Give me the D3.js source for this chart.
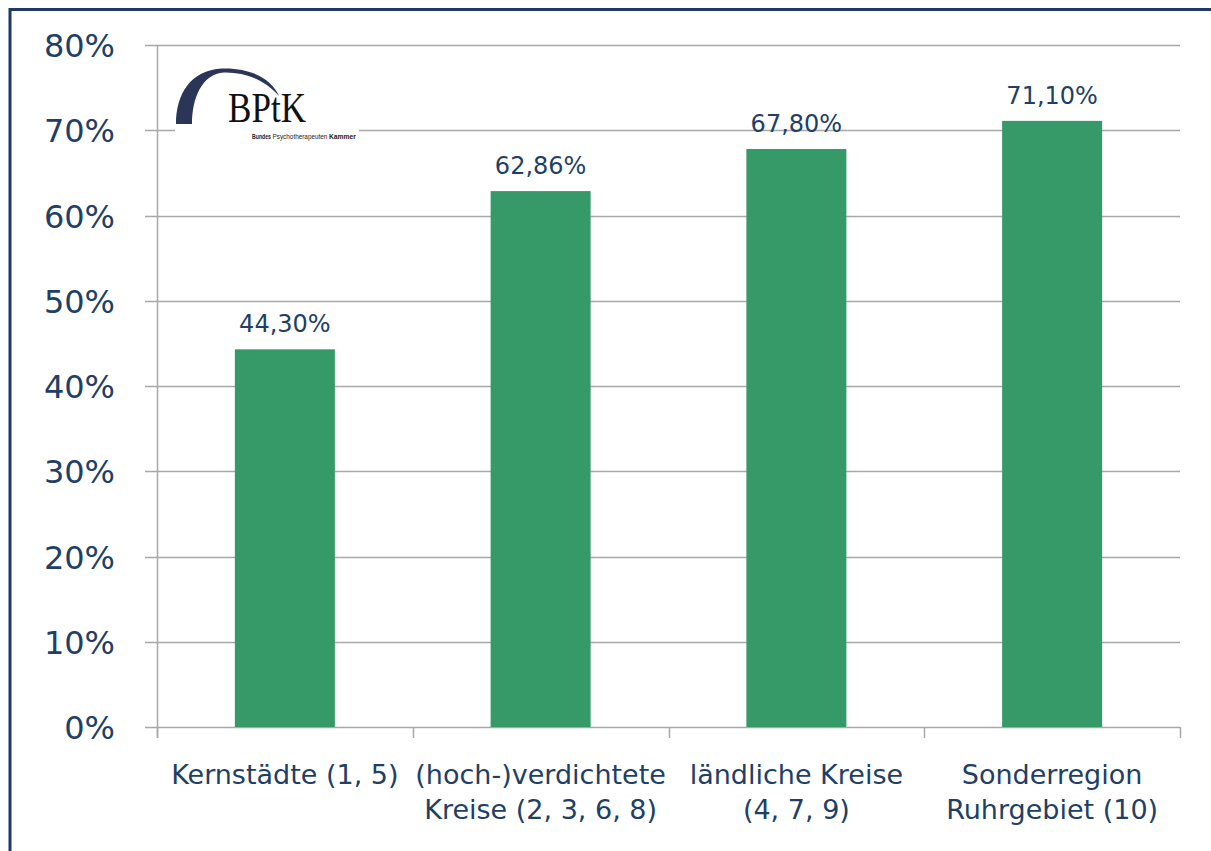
<!DOCTYPE html>
<html>
<head>
<meta charset="utf-8">
<script src="https://cdn.jsdelivr.net/npm/d3@7"></script>
<style>
  html, body { margin: 0; padding: 0; background: #ffffff; }
  svg { display: block; }
</style>
</head>
<body>
<svg id="chart" width="1211" height="851"></svg>
<script>
// Anteil je Regionstyp
const categories = [
  ["Kernstädte (1, 5)"],
  ["(hoch-)verdichtete", "Kreise (2, 3, 6, 8)"],
  ["ländliche Kreise", "(4, 7, 9)"],
  ["Sonderregion", "Ruhrgebiet (10)"]
];
const values = [0.4430, 0.6286, 0.6780, 0.7110];
const yTicks = [0, 0.1, 0.2, 0.3, 0.4, 0.5, 0.6, 0.7, 0.8];
const yTickLabels = ["0%", "10%", "20%", "30%", "40%", "50%", "60%", "70%", "80%"];

const navy = "#213f66";
const grid = "#a8a8a8";
const green = "#359968";
const font = "'DejaVu Sans', Verdana, sans-serif";

const svg = d3.select("#chart");

// outer frame (top and left edges)
svg.append("path")
  .attr("d", "M10,851 L10,9.5 L1211,9.5")
  .attr("fill", "none")
  .attr("stroke", "#1c3a64")
  .attr("stroke-width", 3);

const plot = { left: 157, right: 1180, top: 45, bottom: 727 };

const keys = categories.map((c, i) => i);
const x = d3.scaleBand()
  .domain(keys)
  .range([plot.left, plot.right])
  .paddingInner(0.609)
  .paddingOuter(0.3045);

const y = d3.scaleLinear()
  .domain([0, 0.8])
  .range([plot.bottom, plot.top]);

// horizontal gridlines with outward ticks
svg.append("g")
  .selectAll("line")
  .data(yTicks)
  .join("line")
  .attr("x1", plot.left - 12)
  .attr("x2", plot.right)
  .attr("y1", d => Math.round(y(d)) + 0.5)
  .attr("y2", d => Math.round(y(d)) + 0.5)
  .attr("stroke", grid)
  .attr("stroke-width", 1.5);

// y axis labels
const yAxis = d3.axisLeft(y)
  .tickValues(yTicks)
  .tickFormat((d, i) => yTickLabels[i])
  .tickSize(0)
  .tickPadding(42);
const gy = svg.append("g")
  .attr("transform", `translate(${plot.left},0)`)
  .call(yAxis);
gy.select(".domain").remove();
gy.selectAll("text")
  .attr("fill", navy)
  .attr("font-family", font)
  .attr("font-size", 32)
  .attr("dy", "0.36em");

// vertical axis line
svg.append("line")
  .attr("x1", plot.left + 0.5).attr("x2", plot.left + 0.5)
  .attr("y1", plot.top).attr("y2", plot.bottom + 11)
  .attr("stroke", grid).attr("stroke-width", 1.5);

// category boundary ticks
const step = x.step();
const bounds = d3.range(categories.length + 1).map(i => plot.left + i * step);
svg.append("g")
  .selectAll("line")
  .data(bounds)
  .join("line")
  .attr("x1", d => Math.round(d) + 0.5)
  .attr("x2", d => Math.round(d) + 0.5)
  .attr("y1", plot.bottom)
  .attr("y2", plot.bottom + 11)
  .attr("stroke", grid)
  .attr("stroke-width", 1.5);

// logo
const logo = svg.append("g");
logo.append("rect")
  .attr("x", 175).attr("y", 64).attr("width", 184).attr("height", 68)
  .attr("fill", "#ffffff");
logo.append("path")
  .attr("d", "M176,124 C176,95 190,70 222,68.5 C252,67.5 272,80 279,96 C264,79 244,72 224,72.5 C202,74 192,98 192,124 Z")
  .attr("fill", "#2b3558");
logo.append("text")
  .attr("x", 228).attr("y", 122)
  .attr("font-family", "'Liberation Serif', 'Times New Roman', serif")
  .attr("font-size", 42)
  .attr("textLength", 78)
  .attr("lengthAdjust", "spacingAndGlyphs")
  .attr("fill", "#111111")
  .text("BPtK");

// wordmark line, each part squeezed horizontally into its slot
const smallParts = [
  { t: "Bundes", x: 252, w: 19, bold: true },
  { t: "Psychotherapeuten", x: 272.5, w: 55, bold: false },
  { t: "Kammer", x: 329, w: 27, bold: true }
];
logo.selectAll("text.small")
  .data(smallParts)
  .join("text")
  .attr("class", "small")
  .attr("font-family", "'Liberation Sans', Arial, sans-serif")
  .attr("font-size", 7)
  .attr("font-weight", d => d.bold ? "bold" : "normal")
  .attr("fill", "#222222")
  .text(d => d.t)
  .attr("transform", function (d) {
    const natural = this.getComputedTextLength();
    const sx = d.w / natural;
    return `translate(${d.x},139) scale(${sx},1)`;
  });

// bars
svg.append("g")
  .selectAll("rect")
  .data(values)
  .join("rect")
  .attr("x", (d, i) => x(i))
  .attr("width", x.bandwidth())
  .attr("y", d => y(d))
  .attr("height", d => y(0) - y(d))
  .attr("fill", green);

// value labels
const fmt = v => (v * 100).toFixed(2).replace(".", ",") + "%";
svg.append("g")
  .selectAll("text")
  .data(values)
  .join("text")
  .attr("x", (d, i) => x(i) + x.bandwidth() / 2)
  .attr("y", d => y(d) - 17)
  .attr("text-anchor", "middle")
  .attr("font-family", font)
  .attr("font-size", 24)
  .attr("fill", navy)
  .text(d => fmt(d));

// category labels
const cat = svg.append("g")
  .selectAll("text")
  .data(categories)
  .join("text")
  .attr("x", (d, i) => x(i) + x.bandwidth() / 2)
  .attr("y", 784)
  .attr("text-anchor", "middle")
  .attr("font-family", font)
  .attr("font-size", 27)
  .attr("fill", navy);
cat.selectAll("tspan")
  .data(d => d)
  .join("tspan")
  .attr("x", function () { return d3.select(this.parentNode).attr("x"); })
  .attr("dy", (d, i) => i === 0 ? 0 : 35)
  .text(d => d);
</script>
</body>
</html>
